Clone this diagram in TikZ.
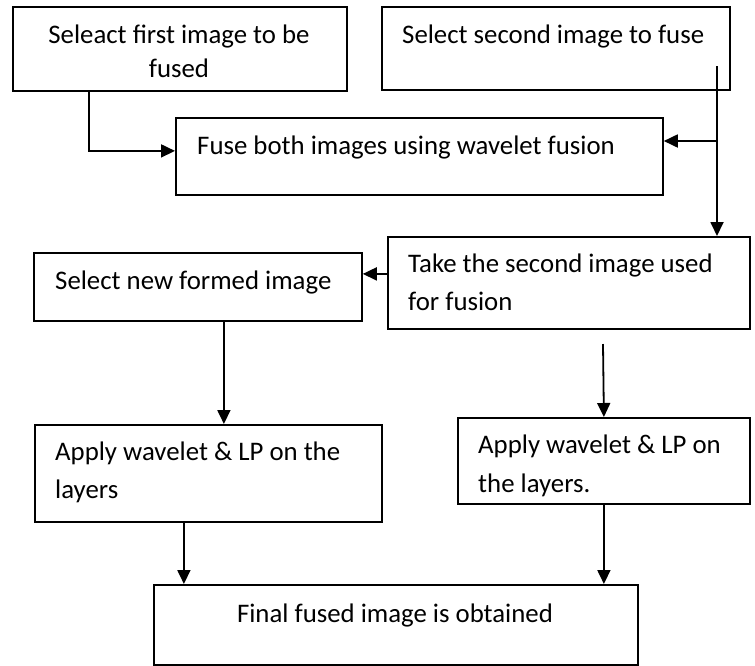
\documentclass[tikz,border=0pt]{standalone}
\usepackage{fontspec}
\setmainfont{Carlito}
\usetikzlibrary{arrows.meta,positioning,calc}
\tikzset{
  stepbox/.style={rectangle,draw=black,line width=1.8pt,anchor=north west,inner sep=0pt},
  steptext/.style={anchor=base west,inner sep=0pt,align=left,font={\fontsize{26.8}{38}\selectfont}},
  arrow/.style={-{Triangle[length=14pt,width=13pt]},line width=1.8pt}
}
\begin{document}
\begin{tikzpicture}[x=1pt,y=-1pt]
    \useasboundingbox (0,0) rectangle (755,665);

    % boxes
    \node[stepbox, minimum width=334pt, minimum height=84pt] (sel1) at (12,6) {};
    \node[stepbox, minimum width=348pt, minimum height=83pt] (sel2) at (381,6) {};
    \node[stepbox, minimum width=487pt, minimum height=77pt] (fuse) at (175,117) {};
    \node[stepbox, minimum width=362pt, minimum height=92pt] (take) at (387,236) {};
    \node[stepbox, minimum width=328pt, minimum height=68pt] (newimg) at (33,252) {};
    \node[stepbox, minimum width=347pt, minimum height=97pt] (applyL) at (34,424) {};
    \node[stepbox, minimum width=292pt, minimum height=86pt] (applyR) at (457,417) {};
    \node[stepbox, minimum width=484pt, minimum height=80pt] (final) at (153,584) {};

    % texts (multi-line ones sit on their last baseline)
    \node[steptext, anchor=base, align=center, font={\fontsize{26.8}{34}\selectfont}] (sel1txt) at (179,77) {Seleact first image to be\\fused};
    \node[steptext] (sel2txt) at (402,43) {Select second image to fuse};
    \node[steptext] (fusetxt) at (197,154) {Fuse both images using wavelet fusion};
    \node[steptext] (taketxt) at (408,310) {Take the second image used\\for fusion};
    \node[steptext] (newimgtxt) at (55,289) {Select new formed image};
    \node[steptext] (applyLtxt) at (55,498) {Apply wavelet \& LP on the\\layers};
    \node[steptext, font={\fontsize{26.8}{39}\selectfont}] (applyRtxt) at (478,492) {Apply wavelet \& LP on\\the layers.};
    \node[steptext, anchor=base, align=center] (finaltxt) at (395,622) {Final fused image is obtained};

    % free ends
    \coordinate (s2in) at (717,66);
    \coordinate (br) at (717,141);
    \coordinate (tk) at (603,344);

    \draw[arrow] ([xshift=77pt]sel1.south west) |- ([yshift=5.5pt]fuse.west);
    \draw[arrow] (s2in) -- (s2in |- take.north);
    \draw[arrow] (br) -- (br -| fuse.east);
    \draw[arrow] ([yshift=9pt]take.west) -- ([yshift=9pt]take.west -| newimg.east);
    \draw[arrow] ([xshift=26pt]newimg.south) -- ([xshift=26pt]newimg.south |- applyL.north);
    \draw[arrow] (tk) -- (applyR.north);
    \draw[arrow] ([xshift=-24.5pt]applyL.south) -- ([xshift=-24.5pt]applyL.south |- final.north);
    \draw[arrow] (applyR.south) -- (applyR.south |- final.north);
\end{tikzpicture}
\end{document}
